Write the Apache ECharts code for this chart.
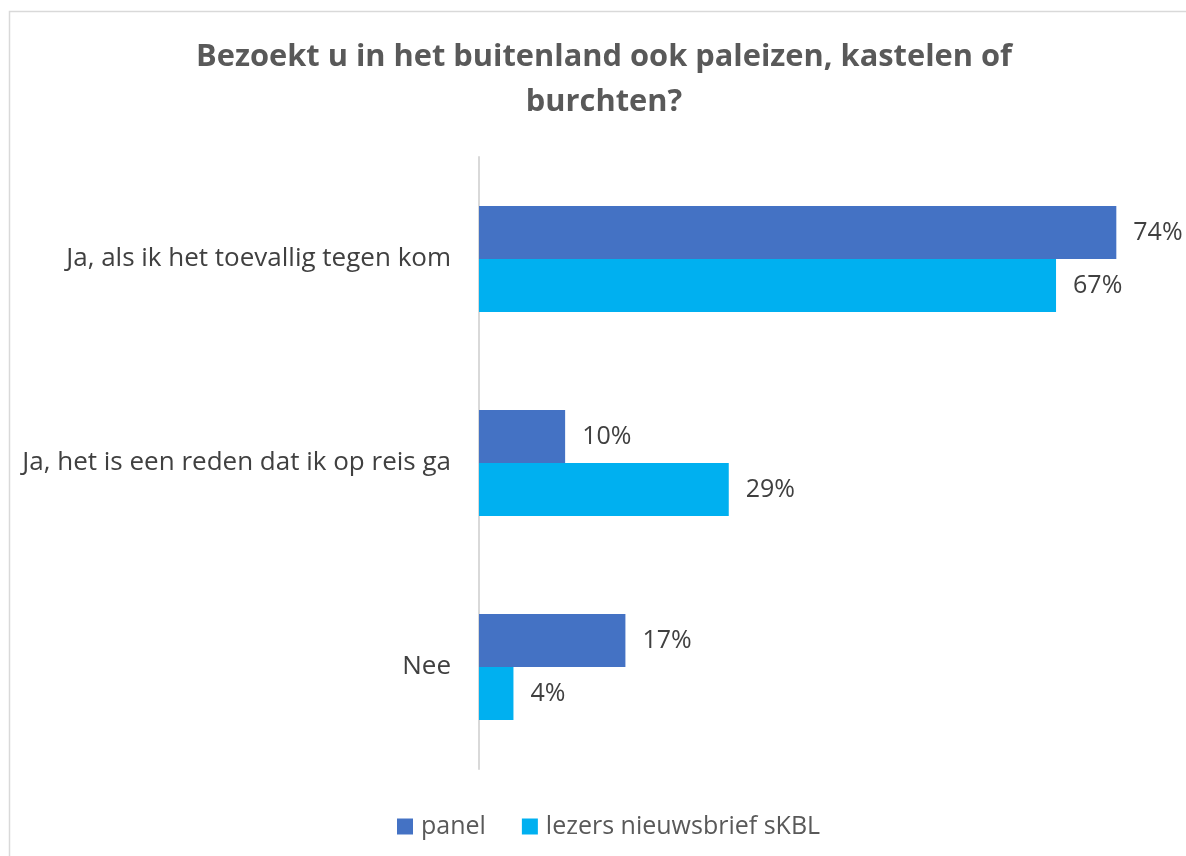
<!DOCTYPE html>
<html><head><meta charset="utf-8">
<script src="https://cdn.jsdelivr.net/npm/echarts@6/dist/echarts.min.js"></script>
<style>html,body{margin:0;padding:0;background:#fff}#c{width:1186px;height:856px}</style>
</head><body><div id="c"></div>
<script>
const categories = ['Ja, als ik het toevallig tegen kom', 'Ja, het is een reden dat ik op reis ga', 'Nee'];
const panel = [74, 10, 17];
const lezers = [67, 29, 4];
const seriesNames = ['panel', 'lezers nieuwsbrief sKBL'];
const titleText = 'Bezoekt u in het buitenland ook paleizen, kastelen of\nburchten?';

const chart = echarts.init(document.getElementById('c'));
const font = '"Open Sans", "Noto Sans", sans-serif';
const labelStyle = {show: true, position: 'right', distance: 17, formatter: '{c}%', color: '#404040', fontSize: 25, fontFamily: font};
chart.setOption({
  animation: false,
  graphic: [{type: 'rect', shape: {x: 9.5, y: 11.5, width: 1300, height: 1000}, style: {fill: 'none', stroke: '#d9d9d9', lineWidth: 1.5}}],
  title: {text: titleText, left: 599, textAlign: 'center', top: 30, textStyle: {fontFamily: font, fontWeight: 'bold', fontSize: 30.8, color: '#595959', lineHeight: 45}},
  legend: {bottom: 12, left: 392, itemWidth: 16, itemHeight: 16, itemGap: 36, icon: 'rect', textStyle: {fontFamily: font, fontSize: 25, color: '#595959', padding: [0, 0, 0, 3]}},
  grid: {left: 479, right: 18, top: 157, bottom: 87},
  xAxis: {type: 'value', min: 0, max: 80, show: false},
  yAxis: {type: 'category', data: categories, inverse: true,
    axisLine: {show: true, lineStyle: {color: '#d9d9d9', width: 2}}, axisTick: {show: false},
    axisLabel: {margin: 28, fontFamily: font, fontSize: 26, color: '#404040'}},
  series: [
    {name: seriesNames[0], type: 'bar', data: panel, barWidth: 53, barGap: '0%', itemStyle: {color: '#4472C4'}, label: labelStyle},
    {name: seriesNames[1], type: 'bar', data: lezers, barWidth: 53, itemStyle: {color: '#00B0F0'}, label: labelStyle}
  ]
});
</script></body></html>
